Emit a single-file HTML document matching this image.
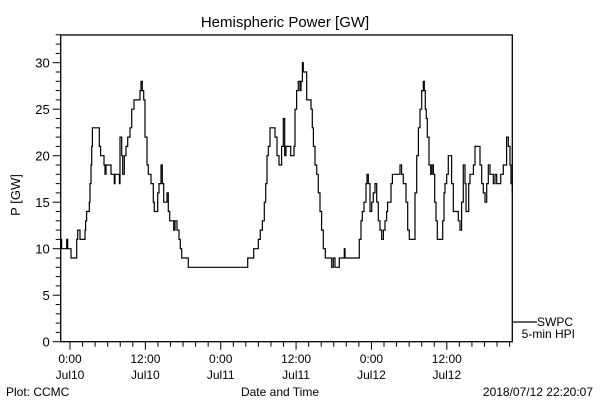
<!DOCTYPE html>
<html><head><meta charset="utf-8"><style>
html,body{margin:0;padding:0;background:#fff}
svg{display:block}
text{font-family:"Liberation Sans",sans-serif;fill:#000}
</style></head><body>
<svg width="600" height="400" viewBox="0 0 600 400">
<g id="axes"></g>
<g id="series"></g>
</svg>
<script>
const times=[-1.49,-1.33,-0.53,-0.37,0.16,1.06,1.22,1.59,2.39,2.49,2.65,3.08,3.18,3.34,3.45,3.56,3.87,4.03,4.67,4.88,5.41,5.57,5.73,5.94,6.53,6.63,7.06,7.17,7.43,7.86,7.96,8.23,8.39,8.65,8.92,9.18,9.55,9.82,10.19,10.35,11.15,11.31,11.52,11.73,11.94,12.26,12.47,12.9,13.27,13.43,13.64,13.96,14.17,14.49,14.7,14.92,15.13,15.45,15.66,15.87,16.08,16.51,16.72,17.04,17.14,17.36,17.57,17.78,18.05,18.84,19.06,28.24,28.29,29.25,29.99,30.31,30.63,30.94,31.16,31.37,31.58,31.85,32.38,32.64,32.96,33.28,
33.44,33.70,33.97,34.18,34.39,35.14,35.67,35.83,36.09,36.36,36.62,36.78,37.0,37.15,37.42,37.69,38.11,38.38,38.59,38.75,39.01,39.28,39.54,39.81,40.07,40.34,40.66,41.4,41.67,41.93,42.2,42.89,43.68,43.79,46.07,46.34,46.55,46.82,47.13,47.29,47.5,47.77,48.04,48.3,48.57,48.83,49.1,49.36,49.63,49.9,50.16,50.42,50.58,51.12,51.33,52.28,52.55,52.81,53.08,53.5,53.77,54.03,54.67,54.94,55.2,55.47,55.73,56.0,56.26,56.42,56.58,56.74,56.9,57.17,57.43,57.64,57.86,58.07,58.28,58.49,59.08,59.34,59.55,59.71,59.98,60.24,60.61,60.77,61.04,61.3,61.57,61.83,62.1,62.36,62.63,62.9,63.06,63.27,63.48,63.69,63.96,64.23,64.49,65.02,65.29,65.55,65.82,66.08,66.35,66.61,66.88,67.41,67.68,67.94,68.37,68.58,69.0,69.27,69.53,69.8,70.06,70.22,70.43];
const values=[11,10,11,10,9,11,12,11,12,13,14,15,17,19,21,23,23,23,21,20,19,18,19,19,18,18,17,18,18,17,22,20,18,20,21,22,23,25,26,26,27,28,27,26,22,19,18,17,15,14,14,16,17,19,17,15,15,16,14,13,13,12,13,12,12,11,10,9,9,8,8,8,9,10,11,12,13,15,17,20,21,23,23,22,20,19,
19,21,24,20,21,20,21,25,27,28,27,28,30,29,29,26,26,25,23,21,19,18,16,14,12,10,9,9,8,9,8,9,10,9,11,13,14,15,17,18,17,14,15,16,17,15,13,12,11,12,13,14,15,17,18,18,19,18,17,15,12,11,11,16,20,23,25,27,28,27,25,24,22,19,18,19,18,15,13,11,11,13,16,17,18,20,20,17,14,14,14,13,12,15,19,17,14,14,17,18,18,19,21,21,19,17,16,15,17,19,18,17,18,17,17,18,19,19,22,21,19,17,16];
const yTicks=[0,5,10,15,20,25,30];
const xTickHours=[0,12,24,36,48,60];
const xTickTop=["0:00","12:00","0:00","12:00","0:00","12:00"];
const xTickBot=["Jul10","Jul10","Jul11","Jul11","Jul12","Jul12"];
const NS="http://www.w3.org/2000/svg";
const L=60.7,R=512.3,T=35,B=341.7;
const x=t=>70+t*6.28;
const y=v=>B-v*9.3;
const ax=document.getElementById('axes'),se=document.getElementById('series');
function mk(tag,attrs,parent){const e=document.createElementNS(NS,tag);for(const k in attrs)e.setAttribute(k,attrs[k]);parent.appendChild(e);return e;}
const frame=mk('rect',{x:L,y:T,width:R-L,height:B-T,fill:'none',stroke:'#000','stroke-width':1.3},ax);


for(let v=0;v<=33;v++){
  const len=v%5===0?8:5;
  const tk=mk('line',{x1:L-len,x2:L,y1:y(v),y2:y(v),stroke:'#000','stroke-width':1},ax);
  
  
}
yTicks.forEach(v=>{
  const tx=mk('text',{x:L-11,y:y(v)+5,'text-anchor':'end','font-size':13},ax);
  tx.textContent=v;
  
  
});
for(let h=-0;h<=70;h+=2){
  const len=h%12===0?8:5;
  const tk=mk('line',{x1:x(h),x2:x(h),y1:B,y2:B+len,stroke:'#000','stroke-width':1},ax);
  
  
}
xTickHours.forEach((h,i)=>{
  const a=mk('text',{x:x(h),y:363,'text-anchor':'middle','font-size':12},ax);
  a.textContent=xTickTop[i];
  
  
  const b=mk('text',{x:x(h),y:379,'text-anchor':'middle','font-size':12},ax);
  b.textContent=xTickBot[i];
  
  
});
let d='';
for(let i=0;i<times.length;i++){
  const px=Math.max(L,Math.min(R,x(times[i]))).toFixed(1),py=y(values[i]).toFixed(1);
  if(i===0)d+='M'+px+','+py;else d+='H'+px+'V'+py;
}
d+='H'+R;
const line=mk('path',{d:d,fill:'none',stroke:'#000','stroke-width':1.2},se);


</script>
<svg width="600" height="400" viewBox="0 0 600 400" style="position:absolute;left:0;top:0">
<text x="285" y="27" text-anchor="middle" font-size="15">Hemispheric Power [GW]</text>
<text x="20" y="195" text-anchor="middle" font-size="13" transform="rotate(-90 20 195)">P [GW]</text>
<line x1="512" y1="322" x2="537" y2="322" stroke="#000" stroke-width="1.2"/>
<text x="573" y="326" text-anchor="end" font-size="12">SWPC</text>
<text x="575" y="338" text-anchor="end" font-size="12">5-min HPI</text>
<text x="6" y="396" font-size="12">Plot: CCMC</text>
<text x="280" y="396" text-anchor="middle" font-size="12">Date and Time</text>
<text x="593" y="396" text-anchor="end" font-size="12">2018/07/12 22:20:07</text>
</svg>
</body></html>
